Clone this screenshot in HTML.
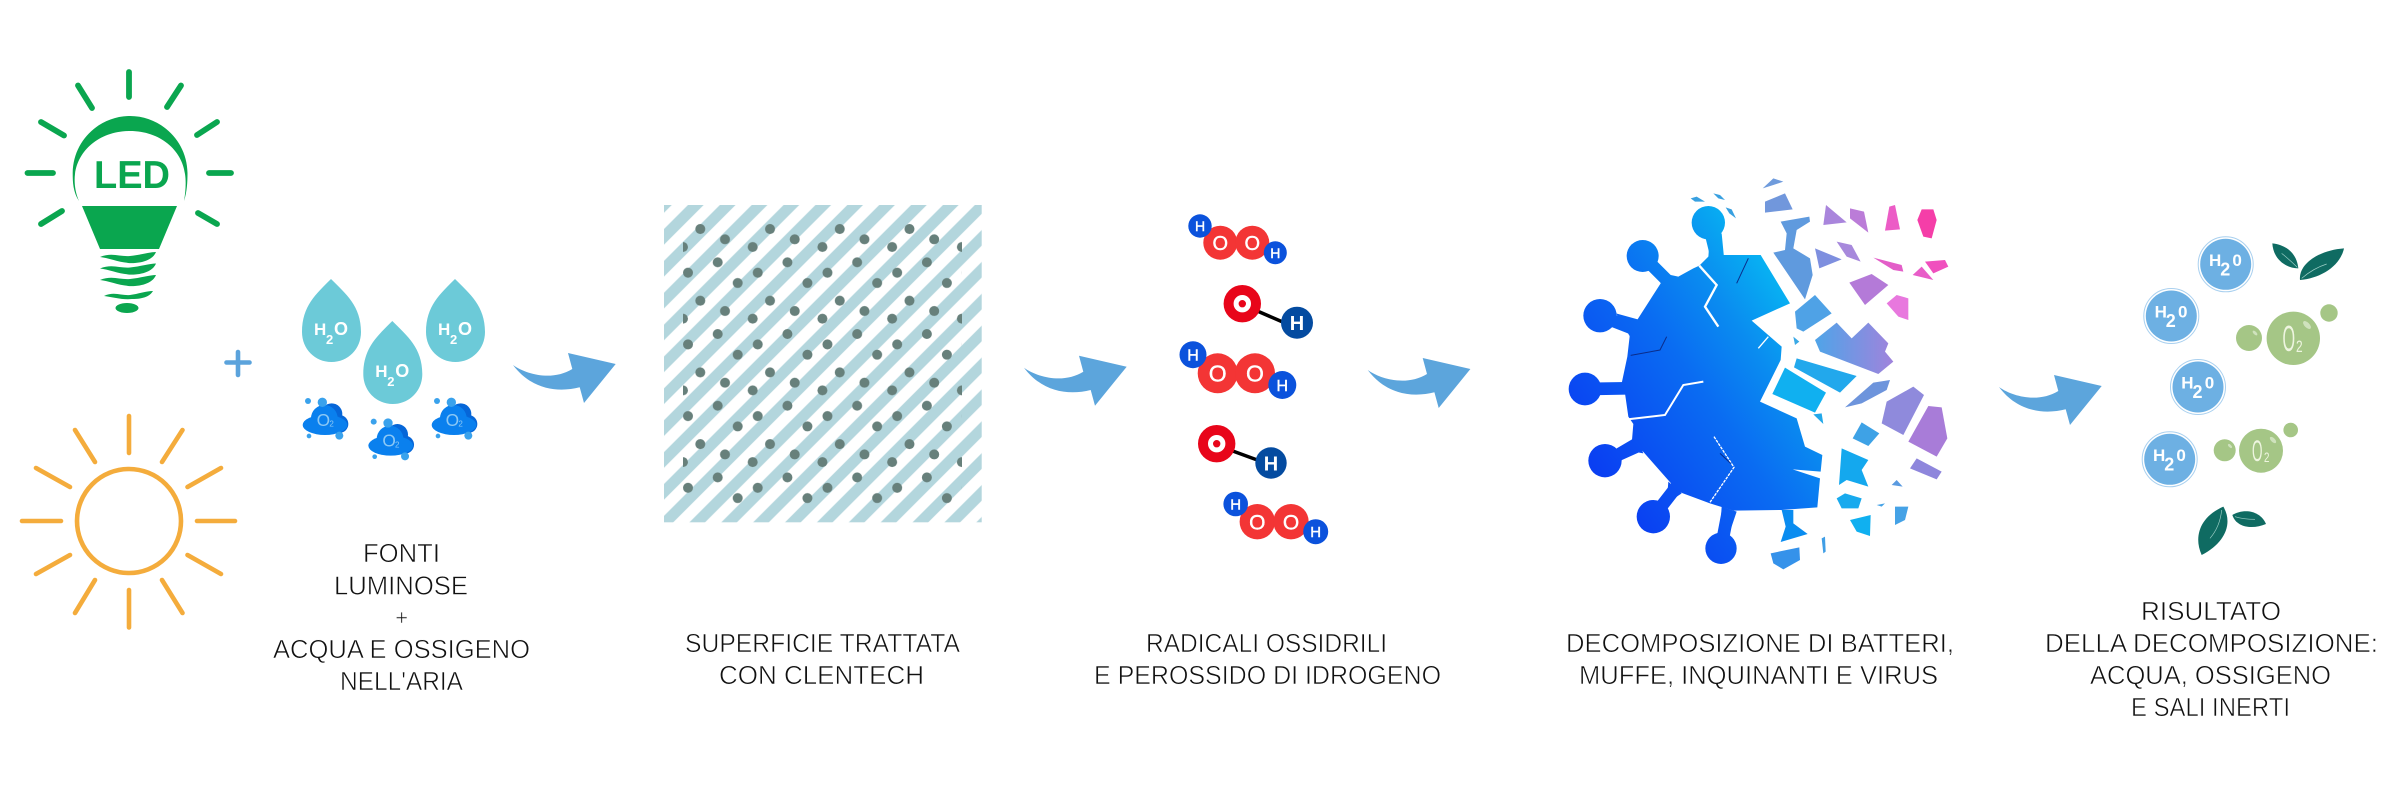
<!DOCTYPE html>
<html lang="it">
<head>
<meta charset="utf-8">
<title>Clentech</title>
<style>
html,body{margin:0;padding:0;background:#fff;width:2400px;height:786px;overflow:hidden}
svg{display:block}
text{font-family:"Liberation Sans",sans-serif}
.t{font-size:26px;fill:#111;stroke:#fff;stroke-width:.6px}
.w{fill:#fff}
.b{font-weight:bold}
.m{fill:#fff;stroke:#fff;stroke-width:.4px}
</style>
</head>
<body>
<svg xmlns="http://www.w3.org/2000/svg" width="2400" height="786" viewBox="0 0 2400 786">
<defs>
<pattern id="st" patternUnits="userSpaceOnUse" width="22.54" height="22.54" patternTransform="rotate(45)">
<rect x=".3" y="0" width="11.1" height="22.54" fill="#b3d6dd"/>
</pattern>
<pattern id="dt" patternUnits="userSpaceOnUse" x="675" y="217" width="69.73" height="71.7">
<g fill="#67807b">
<circle cx="25.3" cy="12" r="5"/><circle cx="50" cy="22.3" r="5"/><circle cx="7.97" cy="30" r="5"/>
<circle cx="42.7" cy="45.3" r="5"/><circle cx="13" cy="55.7" r="5"/><circle cx="62.7" cy="66" r="5"/>
</g>
</pattern>
<clipPath id="dc"><rect x="683" y="222" width="279" height="284"/></clipPath>
<path id="arrow" d="M0,0 C14,10 40,16 59.3,4 L55,-12 L102.7,-1 L71,38 L66.7,22.3 C44,28 18,24 0,0 Z" fill="#5ca5dc"/>
<path id="drop" d="M331,279 C316,294 302,306 302,332 C302,349 315,362 331.5,362 C348,362 361,349 361,332 C361,306 346,294 331,279 Z" fill="#6ccad8"/>
<path id="thread" d="M100,257 C112,252 120,257 130,256 C140,255 150,252 156,252 C154,257 148,262 135,263 C122,264 110,258 100,257 Z" fill="#0aa64f"/>
<linearGradient id="vg" gradientUnits="userSpaceOnUse" x1="100" y1="800" x2="750" y2="350">
<stop offset="0" stop-color="#0a3ff2"/><stop offset=".5" stop-color="#0a6cf2"/><stop offset=".75" stop-color="#0a8cf0"/><stop offset="1" stop-color="#07b5f2"/>
</linearGradient>
<linearGradient id="fg" gradientUnits="userSpaceOnUse" x1="825" y1="540" x2="1060" y2="540">
<stop offset="0" stop-color="#4fa4e8"/><stop offset="1" stop-color="#a083dc"/>
</linearGradient>
</defs>

<!-- LED bulb -->
<g stroke="#0aa64f" stroke-width="5.8" stroke-linecap="round" fill="none">
<path d="M129,72V97M78,85.5L92,108M181,85.5L167,107M41,122L64,135.5M217,122L197,135M27.5,173H53M209,173H231M41,224L62,211M217,224L198,213"/>
</g>
<path d="M79,201 C73,192 72.7,182 72.7,173 C73,140 100,116 130,116 C160,116 187,140 187.5,173 C187.5,182 187,192 184,201 C186,190 186,180 185,174 C182,150 160,131 130,131 C100,131 78,150 75,174 C74,182 75,192 79,201 Z" fill="#0aa64f"/>
<text x="94" y="188" font-size="39" class="b" fill="#0aa64f" textLength="76" lengthAdjust="spacingAndGlyphs">LED</text>
<path d="M82,206H177L159,249H100Z" fill="#0aa64f"/>
<use href="#thread"/><use href="#thread" y="11.5"/><use href="#thread" y="23"/>
<path d="M104,296 C114,291 122,296 130,295 C138,294 146,291 153,291 C150,296 144,299 132,299 C122,300 112,297 104,296 Z" fill="#0aa64f"/>
<ellipse cx="127" cy="308" rx="11.5" ry="5" fill="#0aa64f"/>

<!-- Sun -->
<g stroke="#f4ac3c" stroke-width="4.6" stroke-linecap="round" fill="none">
<circle cx="129" cy="521" r="52"/>
<path d="M129,416V453M129,590V627.5M22,521H61M197,521H235M75,430L95,462M182.5,430L162,462M75,613L95,580M182.5,613L162,580M36,468L70,487M221,468L187.5,487M36,574L70,555M221,574L187.5,555"/>
</g>

<!-- Plus -->
<path d="M226.5,362.5H249.5M238,352V375" stroke="#5ba3dc" stroke-width="4.6" stroke-linecap="round" fill="none"/>

<!-- Drops -->
<use href="#drop"/><use href="#drop" x="61.3" y="42"/><use href="#drop" x="124" y="0"/>
<text x="314" y="335" font-size="17" class="w b">H</text><text x="326" y="344" font-size="13" class="w b">2</text><text x="334" y="335" font-size="18" class="w b">O</text>
<text x="375.3" y="377" font-size="17" class="w b">H</text><text x="387.3" y="386" font-size="13" class="w b">2</text><text x="395.3" y="377" font-size="18" class="w b">O</text>
<text x="438" y="335" font-size="17" class="w b">H</text><text x="450" y="344" font-size="13" class="w b">2</text><text x="458" y="335" font-size="18" class="w b">O</text>

<!-- O2 clouds -->
<g transform="translate(290,270) scale(.3333)">
<circle cx="125" cy="432" r="32" fill="#0666d8"/><circle cx="148" cy="462" r="27" fill="#0666d8"/>
<ellipse cx="105" cy="465" rx="67" ry="30" fill="#0a80ee"/><circle cx="103" cy="445" r="40" fill="#0a80ee"/>
<circle cx="97" cy="397" r="14" fill="#3aa2ec"/><circle cx="54" cy="393" r="9" fill="#3aa2ec"/><circle cx="148" cy="497" r="12" fill="#3aa2ec"/><circle cx="57" cy="498" r="7" fill="#3aa2ec"/>
<text x="80" y="468" font-size="52" fill="#8cc8f5">O</text><text x="118" y="470" font-size="24" fill="#8cc8f5">2</text>
</g>
<g transform="translate(355.7,290.7) scale(.3333)">
<circle cx="125" cy="432" r="32" fill="#0666d8"/><circle cx="148" cy="462" r="27" fill="#0666d8"/>
<ellipse cx="105" cy="465" rx="67" ry="30" fill="#0a80ee"/><circle cx="103" cy="445" r="40" fill="#0a80ee"/>
<circle cx="97" cy="397" r="14" fill="#3aa2ec"/><circle cx="54" cy="393" r="9" fill="#3aa2ec"/><circle cx="148" cy="497" r="12" fill="#3aa2ec"/><circle cx="57" cy="498" r="7" fill="#3aa2ec"/>
<text x="80" y="468" font-size="52" fill="#8cc8f5">O</text><text x="118" y="470" font-size="24" fill="#8cc8f5">2</text>
</g>
<g transform="translate(419,270) scale(.3333)">
<circle cx="125" cy="432" r="32" fill="#0666d8"/><circle cx="148" cy="462" r="27" fill="#0666d8"/>
<ellipse cx="105" cy="465" rx="67" ry="30" fill="#0a80ee"/><circle cx="103" cy="445" r="40" fill="#0a80ee"/>
<circle cx="97" cy="397" r="14" fill="#3aa2ec"/><circle cx="54" cy="393" r="9" fill="#3aa2ec"/><circle cx="148" cy="497" r="12" fill="#3aa2ec"/><circle cx="57" cy="498" r="7" fill="#3aa2ec"/>
<text x="80" y="468" font-size="52" fill="#8cc8f5">O</text><text x="118" y="470" font-size="24" fill="#8cc8f5">2</text>
</g>

<!-- Arrows -->
<use href="#arrow" x="513" y="365"/>
<use href="#arrow" x="1024" y="367.7"/>
<use href="#arrow" x="1367.7" y="370"/>
<use href="#arrow" x="1999" y="387"/>

<!-- Treated surface -->
<rect x="664" y="205" width="317.7" height="317.3" fill="url(#st)"/>
<rect x="683" y="222" width="279" height="284" fill="url(#dt)" clip-path="url(#dc)"/>

<!-- Molecules -->
<g fill="#f33535">
<circle cx="1220.3" cy="242.7" r="17"/><circle cx="1252.3" cy="242.7" r="17"/>
<circle cx="1217.7" cy="373.3" r="20"/><circle cx="1255" cy="373.3" r="20"/>
<circle cx="1257.3" cy="521.7" r="17.7"/><circle cx="1291" cy="521.7" r="17.7"/>
</g>
<g fill="#0b52dc">
<circle cx="1200" cy="226" r="11.7"/><circle cx="1275.3" cy="252.7" r="11.5"/>
<circle cx="1193" cy="354.7" r="13.5"/><circle cx="1282.3" cy="385" r="14"/>
<circle cx="1235.7" cy="504" r="12.3"/><circle cx="1315.7" cy="531.7" r="12.5"/>
</g>
<g text-anchor="middle">
<text x="1220.3" y="250" font-size="20" class="m">O</text><text x="1252.3" y="250" font-size="20" class="m">O</text>
<text x="1200" y="231" font-size="14" class="m">H</text><text x="1275.3" y="258" font-size="14" class="m">H</text>
<text x="1217.7" y="381.5" font-size="23" class="m">O</text><text x="1255" y="381.5" font-size="23" class="m">O</text>
<text x="1193" y="360.5" font-size="16" class="m">H</text><text x="1282.3" y="391" font-size="16" class="m">H</text>
<text x="1257.3" y="529.5" font-size="21" class="m">O</text><text x="1291" y="529.5" font-size="21" class="m">O</text>
<text x="1235.7" y="509.5" font-size="15" class="m">H</text><text x="1315.7" y="537" font-size="15" class="m">H</text>
</g>
<g stroke="#000" stroke-width="3.5"><path d="M1255,310L1285,323M1230,450L1260,461"/></g>
<g fill="#e8051a">
<circle cx="1242.3" cy="303.7" r="18.7"/><circle cx="1216.7" cy="443.7" r="18.7"/>
</g>
<circle cx="1242.3" cy="303.7" r="6.2" fill="none" stroke="#fff" stroke-width="5"/>
<circle cx="1216.7" cy="443.7" r="6.2" fill="none" stroke="#fff" stroke-width="5"/>
<circle cx="1297" cy="322.7" r="16" fill="#044ba0"/><circle cx="1271" cy="463" r="15.7" fill="#044ba0"/>
<text x="1297" y="330" font-size="20" class="w b" text-anchor="middle">H</text>
<text x="1271" y="470.5" font-size="20" class="w b" text-anchor="middle">H</text>

<!-- Virus -->
<g transform="translate(1540,170) scale(.33333)">
<g stroke="url(#vg)" stroke-width="38" fill="none">
<path d="M505,158L530,260M308,258L385,335M180,437L290,480M135,657L260,655M195,872L300,825M340,1040L410,950M543,1135L565,1020"/>
</g>
<g fill="url(#vg)">
<circle cx="505" cy="158" r="50"/><circle cx="308" cy="258" r="48"/><circle cx="180" cy="437" r="50"/>
<circle cx="135" cy="657" r="49"/><circle cx="195" cy="872" r="50"/><circle cx="340" cy="1040" r="50"/><circle cx="543" cy="1135" r="47"/>
<path d="M478,287L510,255L662,255L750,400L635,452L725,530L722,570L660,695L770,745L795,830L847,855L842,905L758,898L840,925L832,1012L725,1020L580,1022L510,1000L415,965L305,840L275,822L280,762L265,740L255,670L245,640L262,560L270,490L285,460L362,340L400,328L460,295Z"/>
<path d="M345,305L415,320L370,355ZM228,430L300,450L270,500ZM230,835L290,800L310,850ZM380,1000L385,935L425,970ZM540,1085L545,1010L590,1025L568,1090ZM510,190L545,190L552,262L505,262Z"/>
</g>
<path d="M725,1020L760,1020L760,1060L803,1092L722,1116L737,1070Z" fill="#0a8cf0"/>
<g fill="none" stroke="#fff">
<path d="M478,287L530,345L495,410L535,470" stroke-width="7"/>
<path d="M262,748L375,735L430,645L490,635" stroke-width="6"/>
<path d="M522,800L582,892L510,997" stroke-width="4" stroke-dasharray="9 3"/>
<path d="M655,535L685,500" stroke-width="4"/>
</g>
<g fill="none" stroke="#0b2c8a" stroke-width="3">
<path d="M272,556L360,540L380,500M590,340L625,265M540,850L572,880"/>
</g>
<path d="M668,55L700,25L730,35L700,45Z" fill="#6f9bdc"/>
<path d="M675,95L735,70L758,118L675,128Z" fill="#7197dc"/>
<path d="M722,155L808,140L810,155L770,180L760,235L810,265L818,315L795,388L700,248L735,240L740,190Z" fill="#5f9ade"/>
<path d="M858,105L920,157L850,165Z" fill="#a985dc"/>
<path d="M930,115L972,125L985,188L930,145Z" fill="#bb7cd8"/>
<path d="M1048,110L1065,105L1080,178L1035,182Z" fill="#ec5cc6"/>
<path d="M1145,118L1180,118L1190,150L1175,205L1150,200L1132,150Z" fill="#f53ea8"/>
<path d="M825,235L905,268L838,295Z" fill="#7e8fdf"/>
<path d="M890,215L935,225L962,275L920,260Z" fill="#a789dc"/>
<path d="M1000,263L1085,285L1090,305L1060,300Z" fill="#e35ec8"/>
<path d="M1155,275L1215,270L1225,290L1180,310Z" fill="#f050be"/>
<path d="M1118,315L1145,290L1180,330Z" fill="#e85dc8"/>
<path d="M928,338L995,312L1045,345L975,405Z" fill="#b47ad8"/>
<path d="M1040,400L1070,375L1105,385L1105,450L1075,440Z" fill="#e878de"/>
<path d="M765,425L825,375L875,430L790,485L770,475Z" fill="#4fa2e6"/>
<path d="M825,510L890,458L935,505L985,458L1045,520L1035,545L1060,575L1015,612L840,545Z" fill="url(#fg)"/>
<path d="M760,500L778,515L765,525Z" fill="#3aa9e6"/>
<path d="M770,565L950,618L900,668L762,592Z" fill="#22a8ec"/>
<path d="M735,593L858,668L825,728L697,672Z" fill="#10b0f0"/>
<path d="M915,712L1000,638L1050,630L1040,660L965,700Z" fill="#6d94dc"/>
<path d="M1025,760L1040,695L1120,650L1152,675L1090,795Z" fill="#8f8adc"/>
<path d="M1105,815L1165,708L1205,712L1222,805L1190,860Z" fill="#a87cd8"/>
<path d="M1110,895L1130,865L1205,905L1190,928Z" fill="#8e86dc"/>
<path d="M938,805L965,757L1018,790L985,828Z" fill="#3ea2e6"/>
<path d="M905,835L985,870L965,900L985,950L920,930L897,945Z" fill="#14a8ee"/>
<path d="M820,733L845,730L850,762Z" fill="#22a8ea"/>
<path d="M890,985L915,970L965,985L955,1015L905,1015Z" fill="#18aaee"/>
<path d="M930,1050L992,1035L990,1098L950,1085Z" fill="#10b0f0"/>
<path d="M1065,1010L1105,1010L1095,1050L1065,1065Z" fill="#45a2e6"/>
<path d="M1055,945L1070,930L1088,950Z" fill="#5a9ae0"/>
<path d="M1010,1005L1035,1000L1025,1010Z" fill="#45a2e6"/>
<path d="M845,1105L855,1100L857,1145L850,1150Z" fill="#3f9ee6"/>
<path d="M692,1150L778,1132L780,1170L730,1198L700,1180Z" fill="#3592ea"/>
<path d="M452,85L470,80L495,95L465,95Z" fill="#38a0e0"/>
<path d="M520,70L540,75L555,90L535,85Z" fill="#38a0e0"/>
<path d="M557,112L575,118L588,145L568,130Z" fill="#38a0e0"/>
</g>

<!-- Result: H2O bubbles -->
<g stroke="#a9d0ef" stroke-width="1" fill="#fff">
<circle cx="2225.7" cy="264.3" r="27.5"/><circle cx="2171.3" cy="316" r="27.5"/>
<circle cx="2198" cy="387" r="27.5"/><circle cx="2169.7" cy="459.3" r="27.5"/>
</g>
<g fill="#6db0e3">
<circle cx="2225.7" cy="264.3" r="25.5"/><circle cx="2171.3" cy="316" r="25.5"/>
<circle cx="2198" cy="387" r="25.5"/><circle cx="2169.7" cy="459.3" r="25.5"/>
</g>
<text x="2209" y="266" font-size="17" class="w b">H</text><text x="2220.2" y="275.5" font-size="18" class="w b">2</text><text x="2232.4" y="266" font-size="17" class="w b">0</text>
<text x="2154.6" y="317.7" font-size="17" class="w b">H</text><text x="2165.8" y="327.2" font-size="18" class="w b">2</text><text x="2178" y="317.7" font-size="17" class="w b">0</text>
<text x="2181.3" y="388.7" font-size="17" class="w b">H</text><text x="2192.5" y="398.2" font-size="18" class="w b">2</text><text x="2204.7" y="388.7" font-size="17" class="w b">0</text>
<text x="2153" y="461" font-size="17" class="w b">H</text><text x="2164.2" y="470.5" font-size="18" class="w b">2</text><text x="2176.4" y="461" font-size="17" class="w b">0</text>

<!-- Result: O2 bubbles -->
<g fill="#a5c686">
<circle cx="2293.3" cy="338.3" r="26.7"/><circle cx="2249" cy="338" r="13"/><circle cx="2329" cy="313" r="8.7"/>
<circle cx="2261" cy="450.7" r="22"/><circle cx="2224.7" cy="450.3" r="11"/><circle cx="2290.7" cy="430" r="7.3"/>
</g>
<g fill="#cfe2bd">
<ellipse cx="2307" cy="325" rx="5" ry="2.5" transform="rotate(45 2307 325)"/>
<ellipse cx="2255" cy="333" rx="3" ry="1.5" transform="rotate(45 2255 333)"/>
<ellipse cx="2273" cy="440" rx="4" ry="2" transform="rotate(45 2273 440)"/>
<ellipse cx="2230" cy="446" rx="2.5" ry="1.3" transform="rotate(45 2230 446)"/>
</g>
<text transform="translate(2282.5,351) scale(.45,1)" font-size="36" fill="#eef5e0">O</text>
<text transform="translate(2296,352) scale(.7,1)" font-size="17" fill="#eef5e0">2</text>
<text transform="translate(2252,461) scale(.45,1)" font-size="30" fill="#eef5e0">O</text>
<text transform="translate(2264,462) scale(.7,1)" font-size="14" fill="#eef5e0">2</text>

<!-- Leaves -->
<g transform="translate(1980,210) scale(.33333)">
<g fill="#0f6b62">
<path d="M877,100C920,105 950,130 955,175C920,175 880,150 877,100Z"/>
<path d="M1092,115C1080,170 1020,205 960,210C955,160 1020,120 1092,115Z"/>
<path d="M730,890C760,940 735,1000 665,1035C640,980 660,920 730,890Z"/>
<path d="M757,915C790,895 840,900 858,942C820,958 770,955 757,915Z"/>
</g>
<g fill="none" stroke="#9fd0c8" stroke-width="2">
<path d="M905,130Q930,150 952,172M965,205Q1000,175 1040,162M725,900Q720,950 690,985M765,920Q790,928 825,928"/>
</g>
</g>

<!-- Labels -->
<text class="t" x="363" y="562" textLength="77" lengthAdjust="spacingAndGlyphs">FONTI</text>
<text class="t" x="334" y="594.5" textLength="134" lengthAdjust="spacingAndGlyphs">LUMINOSE</text>
<text class="t" x="401.7" y="625" text-anchor="middle" style="font-size:22px">+</text>
<text class="t" x="273" y="658" textLength="257" lengthAdjust="spacingAndGlyphs">ACQUA E OSSIGENO</text>
<text class="t" x="340" y="690" textLength="123" lengthAdjust="spacingAndGlyphs">NELL'ARIA</text>
<text class="t" x="685" y="652" textLength="275" lengthAdjust="spacingAndGlyphs">SUPERFICIE TRATTATA</text>
<text class="t" x="719" y="684" textLength="205" lengthAdjust="spacingAndGlyphs">CON CLENTECH</text>
<text class="t" x="1146" y="652" textLength="241" lengthAdjust="spacingAndGlyphs">RADICALI OSSIDRILI</text>
<text class="t" x="1094" y="684" textLength="347" lengthAdjust="spacingAndGlyphs">E PEROSSIDO DI IDROGENO</text>
<text class="t" x="1566" y="652" textLength="388" lengthAdjust="spacingAndGlyphs">DECOMPOSIZIONE DI BATTERI,</text>
<text class="t" x="1579" y="684" textLength="359" lengthAdjust="spacingAndGlyphs">MUFFE, INQUINANTI E VIRUS</text>
<text class="t" x="2141" y="620" textLength="140" lengthAdjust="spacingAndGlyphs">RISULTATO</text>
<text class="t" x="2045" y="652" textLength="333" lengthAdjust="spacingAndGlyphs">DELLA DECOMPOSIZIONE:</text>
<text class="t" x="2090" y="684" textLength="241" lengthAdjust="spacingAndGlyphs">ACQUA, OSSIGENO</text>
<text class="t" x="2131" y="716" textLength="159" lengthAdjust="spacingAndGlyphs">E SALI INERTI</text>
</svg>
</body>
</html>
